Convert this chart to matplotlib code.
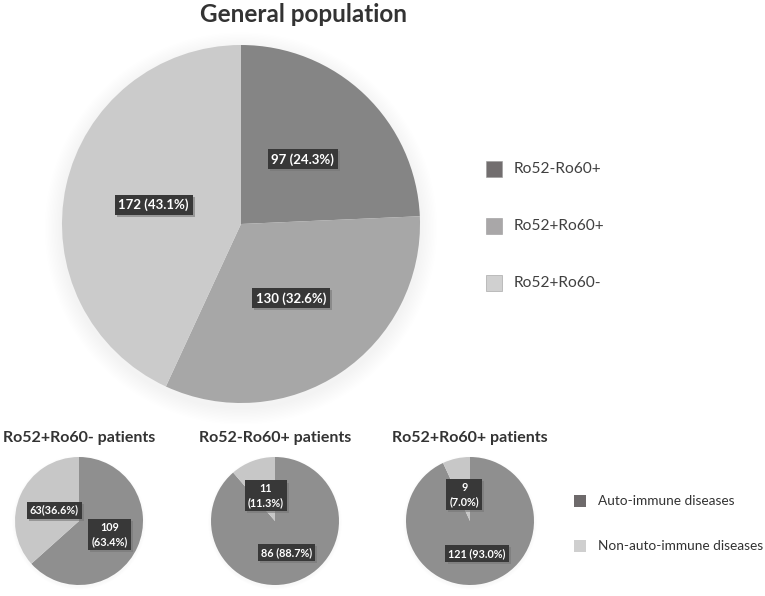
import matplotlib
matplotlib.use("Agg")
import matplotlib.pyplot as plt
import matplotlib.patheffects as pe
from matplotlib.patches import Circle, Rectangle
import numpy as np

# ---- data ----
main_title = "General population"
main_categories = ["Ro52-Ro60+", "Ro52+Ro60+", "Ro52+Ro60-"]
main_values = [97, 130, 172]
main_labels = ["97 (24.3%)", "130 (32.6%)", "172 (43.1%)"]

sub_titles = ["Ro52+Ro60- patients", "Ro52-Ro60+ patients", "Ro52+Ro60+ patients"]
sub_categories = ["Auto-immune diseases", "Non-auto-immune diseases"]
sub_values = [[109, 63], [86, 11], [121, 9]]
sub_labels = [["109\n(63.4%)", "63(36.6%)"],
              ["86 (88.7%)", "11\n(11.3%)"],
              ["121 (93.0%)", "9\n(7.0%)"]]

# ---- styles ----
FONT = ["Lato", "DejaVu Sans"]
plt.rcParams["font.family"] = FONT
W, H = 765, 596
main_colors = ["#858585", "#a7a7a7", "#cbcbcb"]
main_legend_colors = ["#726e6f", "#a9a7a8", "#d0d0d0"]
sub_colors = ["#8f8f8f", "#c7c7c7"]
sub_legend_colors = ["#6e6a6b", "#cfcfcf"]

fig = plt.figure(figsize=(W / 100, H / 100), dpi=100)
fig.patch.set_facecolor("white")


def px_axes(cx, cy, r):
    return fig.add_axes([(cx - r) / W, (H - cy - r) / H, 2 * r / W, 2 * r / H])


def label_box(ax, x, y, s, size):
    t = ax.text(x, y, s, ha="center", va="center", color="white",
                fontsize=size, fontweight="bold", linespacing=1.3,
                bbox=dict(boxstyle="square,pad=0.28", fc="#383838", ec="none"))
    t.get_bbox_patch().set_path_effects(
        [pe.SimplePatchShadow(offset=(1.5, -1.5), shadow_rgbFace="#777777", alpha=0.6),
         pe.Normal()])
    return t


def draw_pie(ax, values, colors, labels, dists, size, shadow_layers=12):
    ax.axis("off")
    for k in range(shadow_layers):
        ax.add_patch(Circle((0.0, -0.025), 1.0 + 0.008 * (k + 1),
                            fc="#000000", ec="none", alpha=0.005, zorder=0))
    wedges, _ = ax.pie(values, colors=colors, startangle=90, counterclock=False,
                       radius=1.0, wedgeprops=dict(linewidth=0))
    for w, s, d in zip(wedges, labels, dists):
        ang = np.deg2rad((w.theta1 + w.theta2) / 2)
        label_box(ax, d * np.cos(ang), d * np.sin(ang), s, size)
    ax.set_aspect("equal")
    ax.set_xlim(-1.12, 1.12)
    ax.set_ylim(-1.12, 1.12)


# main pie
ax_main = px_axes(241, 224, 179 * 1.12)
draw_pie(ax_main, main_values, main_colors, main_labels, [0.5, 0.5, 0.5], 9.5)
fig.text(303 / W, 1 - 14 / H, main_title, ha="center", va="center",
         fontsize=17.5, fontweight="bold", color="#333333")

# main legend
for i, (cat, col) in enumerate(zip(main_categories, main_legend_colors)):
    y = 169 + i * 57
    fig.patches.append(Rectangle((486 / W, 1 - (y + 8) / H), 16 / W, 16 / H,
                                 transform=fig.transFigure, fc=col, ec="#9a9a9a",
                                 lw=0.4))
    fig.text(514 / W, 1 - y / H, cat, ha="left", va="center", fontsize=11.2,
             color="#404040")

# small pies
centers = [79, 275, 470]
for cx, title, vals, labs in zip(centers, sub_titles, sub_values, sub_labels):
    ax = px_axes(cx, 521, 64 * 1.12)
    draw_pie(ax, vals, sub_colors, labs, [0.52, 0.42], 7.8, shadow_layers=6)
    fig.text(cx / W, 1 - 438 / H, title, ha="center", va="center",
             fontsize=11.5, fontweight="bold", color="#333333")

# small legend
for i, (cat, col) in enumerate(zip(sub_categories, sub_legend_colors)):
    y = 501 + i * 45
    fig.patches.append(Rectangle((574 / W, 1 - (y + 6) / H), 12 / W, 12 / H,
                                 transform=fig.transFigure, fc=col, ec="none"))
    fig.text(598 / W, 1 - y / H, cat, ha="left", va="center", fontsize=9.8,
             color="#333333")

fig.savefig("out.png", dpi=100, facecolor="white")
